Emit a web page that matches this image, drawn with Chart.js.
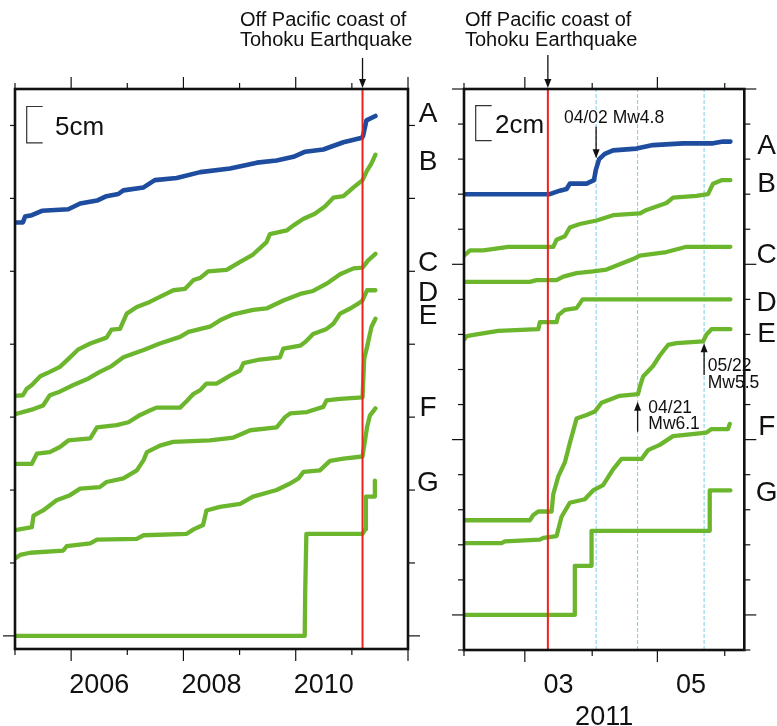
<!DOCTYPE html>
<html>
<head>
<meta charset="utf-8">
<script src="https://cdn.jsdelivr.net/npm/chart.js"></script>
<style>
  html, body { margin: 0; padding: 0; background: #fff; }
  #wrap { position: relative; width: 777px; height: 726px; background: #fff; }
  canvas { position: absolute; top: 0; }
</style>
</head>
<body>
<div id="wrap">
  <canvas id="longChart" width="440" height="726" style="left:0;width:440px;height:726px"></canvas>
  <canvas id="shortChart" width="337" height="726" style="left:440px;width:337px;height:726px"></canvas>
</div>
<script>
// ---- Panel izquierdo: 2005-2011 (años decimales, cm) ----
const longYearsA = [2005.00, 2005.14, 2005.18, 2005.30, 2005.48, 2005.95, 2006.16, 2006.46, 2006.63, 2006.84, 2006.93, 2007.29, 2007.49, 2007.88, 2008.30, 2008.83, 2009.31, 2009.66, 2009.96, 2010.17, 2010.49, 2010.85, 2011.18, 2011.20, 2011.26, 2011.42];
const longCmA    = [56.7, 56.7, 57.5, 57.7, 58.3, 58.5, 59.3, 59.7, 60.3, 60.6, 61.1, 61.5, 62.5, 62.8, 63.6, 64.1, 64.9, 65.2, 65.7, 66.4, 66.7, 67.7, 68.3, 68.6, 70.7, 71.3];

const longYearsB = [2005.00, 2005.14, 2005.21, 2005.30, 2005.45, 2005.62, 2005.80, 2005.98, 2006.13, 2006.34, 2006.63, 2006.72, 2006.87, 2006.99, 2007.17, 2007.40, 2007.58, 2007.82, 2008.03, 2008.18, 2008.30, 2008.44, 2008.77, 2009.01, 2009.24, 2009.48, 2009.54, 2009.84, 2009.96, 2010.14, 2010.34, 2010.52, 2010.67, 2010.85, 2011.03, 2011.19, 2011.27, 2011.35, 2011.42];
const longCmB    = [32.9, 33.0, 33.9, 34.4, 35.6, 36.2, 36.9, 38.2, 39.3, 40.1, 40.9, 42.0, 42.1, 44.2, 45.1, 45.8, 46.5, 47.4, 47.6, 48.8, 49.1, 50.0, 50.2, 51.3, 52.3, 54.0, 55.1, 55.6, 56.3, 57.2, 57.9, 58.9, 60.1, 60.3, 61.5, 62.5, 63.8, 64.8, 66.0];

const longYearsC = [2005.00, 2005.33, 2005.50, 2005.62, 2005.77, 2006.04, 2006.31, 2006.51, 2006.72, 2006.93, 2007.29, 2007.58, 2007.94, 2008.09, 2008.47, 2008.68, 2008.89, 2009.24, 2009.48, 2009.78, 2010.08, 2010.31, 2010.55, 2010.79, 2011.03, 2011.19, 2011.29, 2011.42];
const longCmC    = [30.4, 31.1, 31.6, 33.0, 33.4, 34.4, 35.3, 36.2, 37.0, 38.2, 39.2, 40.1, 41.0, 41.7, 42.4, 43.4, 44.1, 44.7, 44.9, 46.0, 46.9, 47.3, 48.3, 49.6, 50.4, 50.5, 51.5, 52.4];

const longYearsD = [2005.00, 2005.30, 2005.39, 2005.62, 2005.80, 2005.95, 2006.34, 2006.46, 2006.81, 2007.02, 2007.23, 2007.40, 2007.52, 2007.94, 2008.06, 2008.18, 2008.30, 2008.41, 2008.59, 2008.83, 2009.01, 2009.07, 2009.36, 2009.72, 2009.78, 2010.08, 2010.17, 2010.31, 2010.55, 2010.67, 2010.79, 2010.97, 2011.12, 2011.19, 2011.27, 2011.42];
const longCmD    = [23.6, 23.6, 25.0, 25.2, 25.9, 26.8, 27.1, 28.6, 28.9, 29.3, 30.3, 30.9, 31.3, 31.3, 32.2, 33.2, 33.7, 34.6, 34.6, 35.7, 36.4, 37.4, 37.9, 38.2, 39.4, 39.8, 40.3, 41.4, 42.1, 42.8, 44.2, 44.9, 45.6, 46.0, 47.4, 47.4];

const longYearsE = [2005.00, 2005.30, 2005.33, 2005.50, 2005.74, 2005.98, 2006.16, 2006.51, 2006.63, 2006.93, 2007.17, 2007.29, 2007.35, 2007.58, 2007.82, 2008.47, 2008.89, 2009.19, 2009.66, 2009.81, 2009.90, 2010.20, 2010.49, 2010.55, 2010.79, 2011.19, 2011.22, 2011.27, 2011.35, 2011.42];
const longCmE    = [14.5, 14.9, 16.5, 17.2, 18.6, 19.3, 20.2, 20.4, 21.1, 21.6, 22.7, 24.1, 25.2, 26.1, 26.6, 26.8, 27.2, 28.2, 28.6, 30.0, 30.5, 30.7, 31.4, 32.3, 32.5, 32.7, 38.0, 39.6, 42.4, 43.5];

const longYearsF = [2005.00, 2005.09, 2005.27, 2005.86, 2005.92, 2006.34, 2006.46, 2007.17, 2007.29, 2008.06, 2008.18, 2008.35, 2008.41, 2008.65, 2009.01, 2009.24, 2009.66, 2009.90, 2010.05, 2010.14, 2010.43, 2010.61, 2010.85, 2011.19, 2011.27, 2011.32, 2011.42];
const longCmF    = [10.6, 11.1, 11.4, 11.7, 12.3, 12.7, 13.2, 13.3, 13.8, 14.0, 14.6, 15.2, 17.2, 17.7, 18.1, 19.1, 20.0, 20.9, 21.6, 22.5, 22.7, 24.0, 24.3, 24.6, 28.6, 30.2, 31.2];

const longYearsG = [2005.00, 2010.16, 2010.17, 2010.19, 2011.19, 2011.24, 2011.25, 2011.41, 2011.41];
const longCmG    = [0, 0, 6.5, 14.0, 14.0, 14.6, 19.1, 19.1, 21.3];

// ---- Panel derecho: feb-jun 2011 (día del año, 1 ene = 0) ----
const shortDaysA = [31, 70.5, 72.8, 75.1, 78.2, 79.7, 87.4, 90.8, 91.7, 93.2, 95.8, 99.6, 110.4, 118.0, 131.8, 145.6, 150.2, 153.6];
const shortCmA   = [24.0, 24.0, 24.1, 24.2, 24.3, 24.6, 24.6, 24.8, 25.4, 26.0, 26.3, 26.5, 26.6, 26.8, 26.9, 26.9, 27.0, 27.0];

const shortDaysB = [31, 33.8, 39.9, 51.4, 72.1, 73.6, 77.4, 79.7, 84.3, 92.0, 99.6, 111.9, 115.0, 119.6, 124.2, 127.2, 138.0, 143.3, 145.6, 149.5, 153.6];
const shortCmB   = [20.5, 20.8, 20.8, 21.0, 21.0, 21.4, 21.6, 22.1, 22.3, 22.5, 22.8, 22.9, 23.1, 23.3, 23.5, 23.8, 23.9, 24.0, 24.6, 24.8, 24.8];

const shortDaysC = [31, 61.3, 64.4, 73.6, 76.7, 82.8, 90.4, 96.6, 102.7, 108.8, 111.9, 124.2, 133.4, 136.4, 153.6];
const shortCmC   = [19.0, 19.0, 19.1, 19.1, 19.3, 19.5, 19.6, 19.7, 20.0, 20.3, 20.5, 20.7, 21.0, 21.0, 21.0];

const shortDaysD = [31, 32.2, 36.8, 46.8, 65.2, 65.9, 73.6, 74.4, 77.4, 82.8, 85.6, 153.6];
const shortCmD   = [15.7, 15.9, 16.0, 16.2, 16.3, 16.7, 16.7, 17.1, 17.4, 17.5, 18.0, 18.0];

const shortDaysE = [31, 61.3, 62.9, 65.2, 71.3, 72.1, 74.4, 77.4, 79.7, 82.8, 87.4, 91.2, 94.3, 102.7, 111.1, 111.9, 113.4, 118.0, 121.1, 124.9, 128.8, 141.0, 142.6, 144.9, 153.6];
const shortCmE   = [5.4, 5.4, 5.7, 5.9, 5.9, 6.9, 7.9, 8.7, 9.8, 11.2, 11.4, 11.6, 12.1, 12.5, 12.6, 13.0, 13.6, 14.2, 14.8, 15.4, 15.5, 15.6, 16.0, 16.3, 16.3];

const shortDaysF = [31, 48.3, 49.8, 65.9, 67.5, 73.6, 75.9, 79.7, 86.6, 90.4, 95.0, 99.6, 103.5, 112.7, 115.7, 121.1, 127.2, 142.6, 144.9, 152.5, 153.3];
const shortCmF   = [4.1, 4.1, 4.2, 4.3, 4.4, 4.5, 5.6, 6.4, 6.6, 7.1, 7.4, 8.3, 8.9, 8.9, 9.4, 9.7, 10.2, 10.4, 10.6, 10.6, 10.9];

const shortDaysG = [31, 82.0, 82.0, 89.7, 89.7, 144.1, 144.1, 153.6];
const shortCmG   = [0, 0, 2.8, 2.8, 4.8, 4.8, 7.1, 7.1];

// Eventos: terremoto de Tohoku y réplicas
const quakeYear = 2011.19;
const quakeDay = 69.6;
const aftershockDays = [91.8, 110.9, 141.5];

// Ticks y etiquetas
const longYearTicks = [2005, 2006, 2007, 2008, 2009, 2010, 2011, 2012];
const longYearMajor = [2006, 2008, 2010, 2012];
const longYearLabels = [[2006.5, '2006'], [2008.5, '2008'], [2010.5, '2010']];
const longCmTicks = [0, 10, 20, 30, 40, 50, 60, 70];
const shortMonthTicks = [31, 59, 90, 120, 151];
const shortMonthMajor = [59, 120];
const shortMonthLabels = [[74.5, '03'], [135.5, '05']];
const shortCmTicks = [-2, 0, 2, 4, 6, 8, 10, 12, 14, 16, 18, 20, 22, 24, 26, 28, 30];
const stationNames = ['A', 'B', 'C', 'D', 'E', 'F', 'G'];

const BLUE = '#1e4c9e';
const GREEN = '#6cb62e';
const RED = '#f0201c';
const CYAN = '#7ccfe6';
const FONT = '"Liberation Sans", Arial, sans-serif';

function zip(xs, ys) {
    return xs.map((x, i) => ({ x: x, y: ys[i] }));
}

function seriesSet(list) {
    return list.map((s, i) => ({
        label: stationNames[i],
        data: zip(s[0], s[1]),
        borderColor: i === 0 ? BLUE : GREEN,
        borderWidth: i === 0 ? 4.6 : 4.3,
        borderCapStyle: 'round',
        borderJoinStyle: 'round',
        pointRadius: 0,
        tension: 0,
        order: 1
    }));
}

function vline(x, yMin, yMax, color, width, dash, order) {
    return {
        data: [{ x: x, y: yMin }, { x: x, y: yMax }],
        borderColor: color,
        borderWidth: width,
        borderDash: dash,
        pointRadius: 0,
        order: order
    };
}

function capText(ctx, str, x, cy, size, align) {
    ctx.font = size + 'px ' + FONT;
    ctx.textAlign = align || 'left';
    ctx.textBaseline = 'alphabetic';
    ctx.fillText(str, x, cy + size * 0.358);
}

// flecha vertical: de y0 hasta la punta en y1
function arrow(ctx, x, y0, y1) {
    const dir = y1 > y0 ? 1 : -1;
    ctx.lineWidth = 1.3;
    ctx.beginPath();
    ctx.moveTo(x, y0);
    ctx.lineTo(x, y1 - dir * 6);
    ctx.stroke();
    ctx.beginPath();
    ctx.moveTo(x, y1);
    ctx.lineTo(x - 3.5, y1 - dir * 9);
    ctx.lineTo(x + 3.5, y1 - dir * 9);
    ctx.closePath();
    ctx.fill();
}

// Marco, ticks y textos al estilo GMT
const framePlugin = {
    id: 'gmtFrame',
    afterDraw(chart, args, o) {
        const ctx = chart.ctx;
        const a = chart.chartArea;
        const xs = chart.scales.x;
        const ys = chart.scales.y;
        const seg = (x0, y0, x1, y1) => {
            ctx.beginPath();
            ctx.moveTo(x0, y0);
            ctx.lineTo(x1, y1);
            ctx.stroke();
        };
        ctx.save();
        ctx.strokeStyle = '#111';
        ctx.fillStyle = '#111';
        ctx.lineWidth = 1.2;

        o.xTicks.forEach(v => {
            const px = xs.getPixelForValue(v);
            const len = o.xMajor.includes(v) ? 12 : 6;
            seg(px, a.top, px, a.top - len);
            seg(px, a.bottom, px, a.bottom + len);
        });
        o.yTicks.forEach(v => {
            const py = ys.getPixelForValue(v);
            const major = o.yMajor.includes(v);
            seg(a.left, py, a.left - (major ? 12 : o.leftLen), py);
            seg(a.right, py, a.right + (major ? 12 : o.rightLen), py);
        });

        ctx.lineWidth = 2.6;
        ctx.strokeRect(a.left, a.top, a.right - a.left, a.bottom - a.top);

        // etiquetas del eje x
        o.xLabels.forEach(l => capText(ctx, l[1], xs.getPixelForValue(l[0]), 683, 27, 'center'));
        if (o.xTitle) capText(ctx, o.xTitle, (a.left + a.right) / 2, 715, 27, 'center');

        // nombres de estaciones
        o.names.forEach((y, i) => capText(ctx, stationNames[i], o.namesX, y, 28, 'center'));

        // barra de escala
        ctx.lineWidth = 1.2;
        ctx.strokeStyle = '#333';
        const yb0 = ys.getPixelForValue(o.bar.from);
        const yb1 = ys.getPixelForValue(o.bar.from + o.bar.size);
        ctx.beginPath();
        ctx.moveTo(o.bar.x + 16, yb1);
        ctx.lineTo(o.bar.x, yb1);
        ctx.lineTo(o.bar.x, yb0);
        ctx.lineTo(o.bar.x + 16, yb0);
        ctx.stroke();
        capText(ctx, o.bar.text, o.bar.textX, (yb0 + yb1) / 2 + 1, 26, 'left');

        // terremoto
        ctx.strokeStyle = '#111';
        const qx = xs.getPixelForValue(o.quake);
        capText(ctx, 'Off Pacific coast of', o.titleX, 19, 20, 'left');
        capText(ctx, 'Tohoku Earthquake', o.titleX, 39, 20, 'left');
        arrow(ctx, qx, o.quakeArrowTop, a.top - 1);

        // réplicas
        (o.notes || []).forEach(n => {
            const nx = xs.getPixelForValue(n.x);
            arrow(ctx, nx, n.from, n.to);
            n.lines.forEach((t, k) => capText(ctx, t, n.textX, n.textY + k * 16.5, 17.5, 'left'));
        });
        ctx.restore();
    }
};

function makePanel(id, datasets, xMin, xMax, yMin, yMax, padding, frame) {
    const ctx = document.getElementById(id).getContext('2d');
    return new Chart(ctx, {
        type: 'line',
        data: { datasets: datasets },
        options: {
            responsive: false,
            animation: false,
            devicePixelRatio: 1,
            events: [],
            layout: { padding: padding },
            scales: {
                x: { type: 'linear', min: xMin, max: xMax, display: false },
                y: { type: 'linear', min: yMin, max: yMax, display: false }
            },
            plugins: {
                legend: { display: false },
                tooltip: { enabled: false },
                gmtFrame: frame
            }
        },
        plugins: [framePlugin]
    });
}

const LONG_Y = [-1.8, 75];
const SHORT_Y = [-2, 30];

makePanel('longChart',
    seriesSet([
        [longYearsA, longCmA], [longYearsB, longCmB], [longYearsC, longCmC], [longYearsD, longCmD],
        [longYearsE, longCmE], [longYearsF, longCmF], [longYearsG, longCmG]
    ]).concat([vline(quakeYear, LONG_Y[0], LONG_Y[1], RED, 2, [], 0)]),
    2005, 2012, LONG_Y[0], LONG_Y[1],
    { left: 15, top: 89, right: 32, bottom: 77 },
    {
        xTicks: longYearTicks, xMajor: longYearMajor, xLabels: longYearLabels,
        yTicks: longCmTicks, yMajor: [0], leftLen: 5, rightLen: 7,
        names: [112, 160, 261, 291, 314, 406, 481], namesX: 428,
        bar: { x: 26.7, from: 67.6, size: 5, text: '5cm', textX: 55 },
        quake: quakeYear, titleX: 240, quakeArrowTop: 58
    });

makePanel('shortChart',
    seriesSet([
        [shortDaysA, shortCmA], [shortDaysB, shortCmB], [shortDaysC, shortCmC], [shortDaysD, shortCmD],
        [shortDaysE, shortCmE], [shortDaysF, shortCmF], [shortDaysG, shortCmG]
    ]).concat([vline(quakeDay, SHORT_Y[0], SHORT_Y[1], RED, 2, [], 0)])
      .concat(aftershockDays.map(d => vline(d, SHORT_Y[0], SHORT_Y[1], CYAN, 1, [4, 2], 2))),
    31, 160, SHORT_Y[0], SHORT_Y[1],
    { left: 24, top: 89, right: 32.7, bottom: 76 },
    {
        xTicks: shortMonthTicks, xMajor: shortMonthMajor, xLabels: shortMonthLabels, xTitle: '2011',
        yTicks: shortCmTicks, yMajor: [0, 10, 20, 30], leftLen: 6, rightLen: 6,
        names: [144, 182, 253, 301, 332, 425, 491], namesX: 326.7,
        bar: { x: 35.7, from: 27.05, size: 2, text: '2cm', textX: 55 },
        quake: quakeDay, titleX: 25, quakeArrowTop: 55,
        notes: [
            { x: aftershockDays[0], from: 126.7, to: 158.3, lines: ['04/02 Mw4.8'], textX: 124, textY: 116.7 },
            { x: aftershockDays[1], from: 431.7, to: 401.7, lines: ['04/21', 'Mw6.1'], textX: 208.3, textY: 406.7 },
            { x: aftershockDays[2], from: 375, to: 343.3, lines: ['05/22', 'Mw5.5'], textX: 267.7, textY: 365 }
        ]
    });
</script>
</body>
</html>
